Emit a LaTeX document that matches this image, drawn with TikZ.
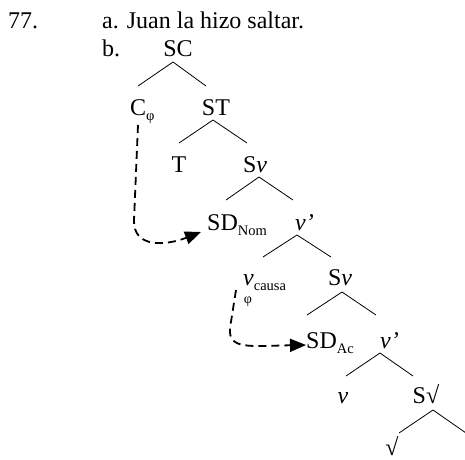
\documentclass[tikz,border=0pt]{standalone}
\usepackage{fontspec}
\setmainfont{Liberation Serif}
\usetikzlibrary{arrows.meta}
\newcommand\subtxt[1]{\raisebox{-5pt}{\fontsize{14.5}{16}\selectfont #1}}
\begin{document}
\begin{tikzpicture}[x=1pt,y=-1pt,
  lbl/.style={inner sep=0pt,font=\fontsize{24}{28}\selectfont},
  lblw/.style={lbl,anchor=base west},
  lblc/.style={lbl,anchor=base},
  small/.style={inner sep=0pt,anchor=base,font=\fontsize{14}{16}\selectfont},
  branch/.style={line width=0.8pt},
  mvarrow/.style={dash pattern=on 8pt off 5pt,line width=1.8pt,-{Triangle[length=16pt,width=13pt]}}]
\useasboundingbox (0,0) rectangle (465,459);
% text
\node[lblw] (num) at (8,28) {77.};
\node[lblw] (exa) at (102,28) {a. Juan la hizo saltar.};
\node[lblw] (exb) at (102,56) {b.};
\node[lblc] (SC) at (178,56) {SC};
\node[lblw] (Cphi) at (130,115) {C\subtxt{φ}};
\node[lblc] (ST) at (216,115) {ST};
\node[lblc] (T) at (179,172) {T};
\node[lblc] (Sv1) at (255,172) {S\textit{v}};
\node[lblw] (SDnom) at (207,230) {SD\subtxt{Nom}};
\node[lblw] (vbar1) at (295,230) {\textit{v’}};
\node[lblw] (vcausa) at (243,285) {\textit{v}\subtxt{causa}};
\node[small] (phi2) at (248,303) {φ};
\node[lblc] (Sv2) at (340,285) {S\textit{v}};
\node[lblw] (SDac) at (306,348) {SD\subtxt{Ac}};
\node[lblw] (vbar2) at (380,348) {\textit{v’}};
\node[lblc] (v) at (343,403) {\textit{v}};
\node[lblc] (Sroot) at (426,403) {S√};
\node[lblc] (root) at (392,455) {√};
% branch points
\coordinate (a1) at (173,62);  \coordinate (l1) at (138,86);  \coordinate (r1) at (206,86);
\coordinate (a2) at (213,120); \coordinate (l2) at (179,143); \coordinate (r2) at (247,143);
\coordinate (a3) at (259,177); \coordinate (l3) at (226,200); \coordinate (r3) at (293,200);
\coordinate (a4) at (297,235); \coordinate (l4) at (263,257); \coordinate (r4) at (331,257);
\coordinate (a5) at (342,292); \coordinate (l5) at (307,315); \coordinate (r5) at (376,315);
\coordinate (a6) at (380,353); \coordinate (l6) at (346,376); \coordinate (r6) at (413,376);
\coordinate (a7) at (433,410); \coordinate (l7) at (399,433); \coordinate (r7) at (466,433);
\foreach \i in {1,...,7}{\draw[branch] (l\i) -- (a\i) -- (r\i);}
% movement arrows
\coordinate (m1s) at (138,125); \coordinate (m1t) at (201,232);
\coordinate (m2s) at (236,290); \coordinate (m2t) at (306,345);
\draw[mvarrow] (m1s) -- (134,220) .. controls (133,248) and (165,246) .. (m1t);
\draw[mvarrow] (m2s) -- (230,328) .. controls (228,350) and (250,346) .. (m2t);
\end{tikzpicture}
\end{document}
